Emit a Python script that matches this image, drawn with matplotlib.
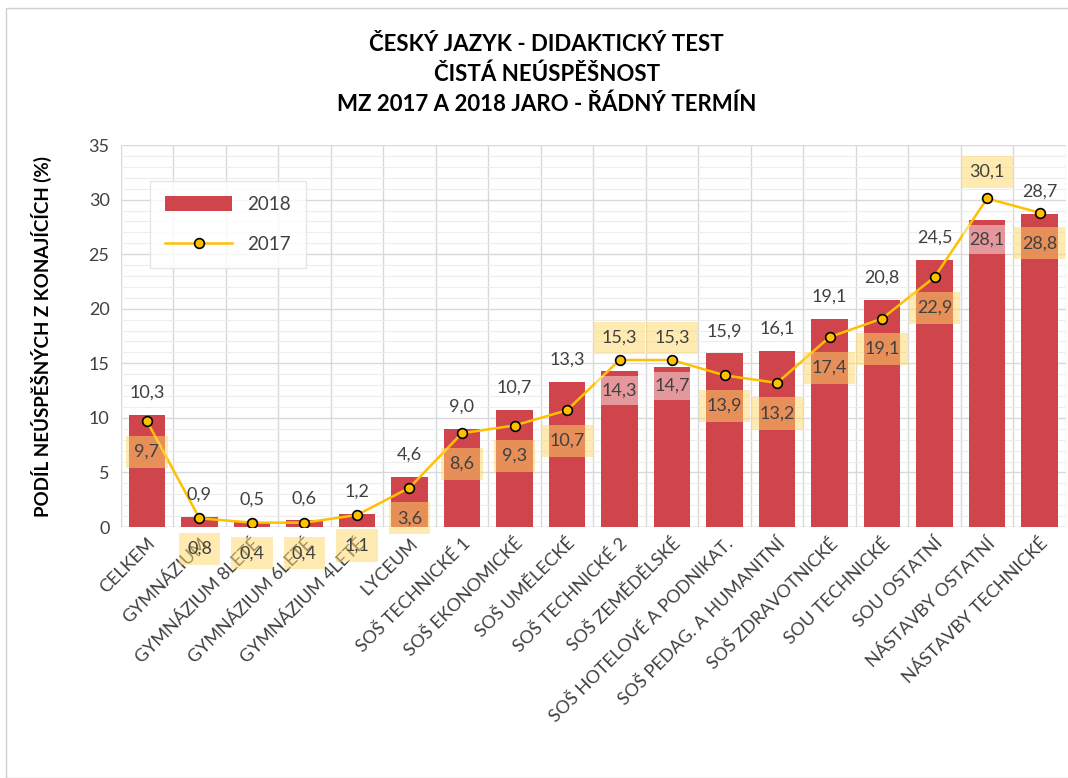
import numpy as np
import matplotlib.pyplot as plt
from matplotlib.patches import Rectangle
from matplotlib.ticker import MultipleLocator

categories = ["CELKEM", "GYMNÁZIUM", "GYMNÁZIUM 8LETÉ", "GYMNÁZIUM 6LETÉ",
              "GYMNÁZIUM 4LETÉ", "LYCEUM", "SOŠ TECHNICKÉ 1", "SOŠ EKONOMICKÉ",
              "SOŠ UMĚLECKÉ", "SOŠ TECHNICKÉ 2", "SOŠ ZEMĚDĚLSKÉ",
              "SOŠ HOTELOVÉ A PODNIKAT.", "SOŠ PEDAG. A HUMANITNÍ",
              "SOŠ ZDRAVOTNICKÉ", "SOU TECHNICKÉ", "SOU OSTATNÍ",
              "NÁSTAVBY OSTATNÍ", "NÁSTAVBY TECHNICKÉ"]
values_2018 = [10.3, 0.9, 0.5, 0.6, 1.2, 4.6, 9.0, 10.7, 13.3, 14.3, 14.7,
               15.9, 16.1, 19.1, 20.8, 24.5, 28.1, 28.7]
values_2017 = [9.7, 0.8, 0.4, 0.4, 1.1, 3.6, 8.6, 9.3, 10.7, 15.3, 15.3,
               13.9, 13.2, 17.4, 19.1, 22.9, 30.1, 28.8]
title_lines = ["ČESKÝ JAZYK - DIDAKTICKÝ TEST", "ČISTÁ NEÚSPĚŠNOST",
               "MZ 2017 A 2018 JARO - ŘÁDNÝ TERMÍN"]

# label placement (style): True = label inside bar / above point
bar_label_inside = [i in (9, 10, 16) for i in range(len(categories))]
line_label_above = [i in (9, 10, 16) for i in range(len(categories))]

BAR = "#D0454C"
LINE = "#FFC000"
TXT = "#404040"
FONT = ["Lato", "DejaVu Sans"]

plt.rcParams['font.family'] = FONT

fig = plt.figure(figsize=(10.68, 7.78), dpi=100)
ax = fig.add_axes([0.113, 0.3226, 0.885, 0.491])

x = np.arange(len(categories))
bars = ax.bar(x, values_2018, width=0.7, color=BAR, zorder=2, label="2018")
line, = ax.plot(x, values_2017, color=LINE, lw=1.8, marker="o", ms=7,
                mfc=LINE, mec="black", mew=1.2, zorder=4, label="2017")

for i in range(len(categories)):
    v = values_2018[i]
    if bar_label_inside[i]:
        ax.annotate(f"{v:.1f}".replace(".", ","), (x[i], v), xytext=(0, -14),
                    textcoords="offset points", ha="center", va="center",
                    fontsize=13, color=TXT, zorder=5,
                    bbox=dict(boxstyle="square,pad=0.35", fc="white",
                              ec="none", alpha=0.45))
    else:
        ax.annotate(f"{v:.1f}".replace(".", ","), (x[i], v), xytext=(0, 16),
                    textcoords="offset points", ha="center", va="center",
                    fontsize=13, color=TXT, zorder=5)
    w = values_2017[i]
    dy = 16 if line_label_above[i] else -22
    if i == 16:
        dy = 19
    ax.annotate(f"{w:.1f}".replace(".", ","), (x[i], w), xytext=(0, dy),
                textcoords="offset points", ha="center", va="center",
                fontsize=13, color=TXT, zorder=5,
                bbox=dict(boxstyle="square,pad=0.45", fc="#FFD966",
                          ec="none", alpha=0.5))

ax.set_xlim(-0.5, len(categories) - 0.5)
ax.set_ylim(0, 35)
ax.yaxis.set_major_locator(MultipleLocator(5))
ax.yaxis.set_minor_locator(MultipleLocator(1))
ax.grid(axis="y", which="major", color="#D9D9D9", lw=1.0, zorder=0)
ax.grid(axis="y", which="minor", color="#EDEDED", lw=0.8, zorder=0)
for b in np.arange(-0.5, len(categories), 1):
    ax.axvline(b, color="#D9D9D9", lw=1.0, zorder=0)
for s in ax.spines.values():
    s.set_visible(False)
ax.axhline(0, color="#BFBFBF", lw=1.0, zorder=1)

ax.set_xticks(x)
ax.set_xticklabels(categories, rotation=45, ha="right", rotation_mode="anchor",
                   fontsize=13, color=TXT)
ax.tick_params(axis="x", length=0, pad=6)
ax.tick_params(axis="y", which="both", length=0, labelsize=13, labelcolor=TXT, pad=8)
ax.set_ylabel("PODÍL NEÚSPĚŠNÝCH Z KONAJÍCÍCH (%)", fontsize=13.5,
              fontweight="bold", color="black", labelpad=26)

leg = ax.legend([bars, line], ["2018", "2017"], loc="upper left",
                bbox_to_anchor=(0.031, 0.906), borderaxespad=0, fontsize=13.5,
                frameon=True, fancybox=False, edgecolor="#E0E0E0",
                borderpad=0.8, labelspacing=1.2, handlelength=3.6,
                handleheight=0.9, labelcolor=TXT)
leg.get_frame().set_linewidth(1.0)

for k, t in enumerate(title_lines):
    fig.text(0.512, 0.943 - k * 0.0385, t, ha="center", va="center",
             fontsize=16, fontweight="bold", color="black")

fig.patches.append(Rectangle((6 / 1068, 0.0), 1.1, 1 - 8 / 778,
                             transform=fig.transFigure, fill=False,
                             ec="#D0D0D0", lw=1.0))

fig.savefig("out.png", dpi=100, facecolor="white")
